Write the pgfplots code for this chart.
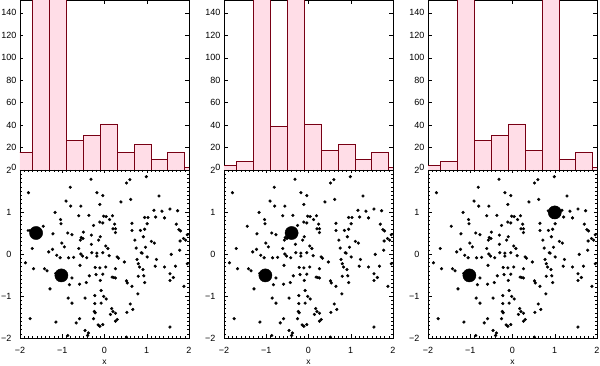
\documentclass[border=0pt]{standalone}
\usepackage{fontspec}
\setmainfont{Liberation Sans}
\usepackage{pgfplots}
\usepackage{pgfplotstable}
\pgfplotsset{compat=1.18}
\definecolor{barfill}{RGB}{255,221,231}
\definecolor{baredge}{RGB}{120,0,20}

\pgfplotstableread{
x y
-0.32 1.78
-1.80 1.46
-0.81 1.59
0.52 1.69
0.60 1.77
0.99 1.84
-0.18 1.46
-0.04 1.39
-0.91 1.26
-0.80 1.14
-0.11 1.18
-0.56 1.14
0.39 1.24
0.62 1.30
1.29 1.38
-1.17 0.99
1.17 1.04
1.36 1.02
1.55 1.07
1.73 1.03
-0.61 0.91
-0.37 0.92
-0.02 0.90
0.04 0.89
0.19 0.91
0.12 0.82
-0.11 0.76
-0.04 0.74
0.24 0.71
0.95 0.87
1.03 0.87
1.21 0.88
1.42 0.86
-1.04 0.82
-1.03 0.72
0.65 0.73
-1.45 0.66
-0.26 0.68
0.20 0.60
0.26 0.60
0.26 0.51
0.65 0.56
0.85 0.56
0.95 0.59
1.01 0.72
1.70 0.71
1.76 0.58
1.80 0.55
1.96 0.46
-0.87 0.50
-0.77 0.46
-0.50 0.52
-1.22 0.48
-0.55 0.39
-0.51 0.37
-0.57 0.33
-0.31 0.45
-0.10 0.41
-0.14 0.33
0.72 0.33
0.92 0.41
1.11 0.30
1.18 0.26
1.87 0.37
1.92 0.33
1.79 0.31
-1.01 0.26
-0.95 0.17
-0.31 0.23
0.03 0.19
0.08 0.13
0.75 0.14
0.97 0.16
1.78 0.09
-1.71 0.13
-1.23 0.11
-1.32 0.05
-0.61 0.13
-0.56 0.00
-0.52 -0.05
-0.42 -0.09
-1.13 -0.03
-1.05 -0.09
-0.85 -0.09
-0.73 -0.08
-0.18 0.02
-0.18 -0.05
-0.30 0.03
-0.04 0.03
0.11 -0.04
0.30 -0.07
0.33 -0.10
0.87 0.03
0.89 0.02
0.77 -0.13
1.01 -0.07
1.23 -0.13
1.58 -0.01
1.96 -0.23
-1.87 -0.21
-0.58 -0.27
-0.22 -0.32
-0.11 -0.33
0.03 -0.31
0.26 -0.35
0.47 -0.19
0.80 -0.23
0.83 -0.31
1.20 -0.29
1.42 -0.31
1.68 -0.29
-1.68 -0.35
-1.42 -0.35
-1.36 -0.40
0.91 -0.37
-0.20 -0.49
-0.04 -0.48
-0.36 -0.52
-0.77 -0.57
0.18 -0.55
0.22 -0.56
0.26 -0.57
0.80 -0.53
0.93 -0.52
1.55 -0.47
1.63 -0.56
1.55 -0.63
-0.83 -0.73
-0.59 -0.72
-0.43 -0.68
-0.10 -0.63
0.52 -0.64
0.54 -0.69
0.65 -0.77
0.95 -0.68
-1.29 -0.83
1.88 -0.77
-0.08 -0.87
0.79 -0.95
-0.23 -0.99
-0.86 -1.05
-0.46 -1.05
-0.02 -1.01
0.04 -1.07
-0.77 -1.17
-0.23 -1.18
-0.08 -1.17
0.61 -1.19
0.67 -1.32
0.17 -1.30
0.20 -1.37
0.26 -1.41
0.14 -1.44
-0.24 -1.37
-0.22 -1.40
0.53 -1.39
-0.59 -1.54
-1.76 -1.54
-1.15 -1.62
-0.67 -1.64
-0.26 -1.54
0.26 -1.60
0.30 -1.56
-0.15 -1.69
-0.04 -1.68
-0.11 -1.72
-0.46 -1.82
-0.38 -1.88
-0.40 -1.94
-0.87 -1.94
0.52 -1.98
1.55 -1.74
}\scatterdata

\pgfplotstableread{
x y
-2.1 16
-1.7 400
-1.3 400
-0.9 26
-0.5 31
-0.1 41
0.3 16
0.7 23
1.1 9
1.5 16
1.9 2
2.3 0
}\histA
\pgfplotstableread{
x y
-2.1 4
-1.7 8
-1.3 400
-0.9 39
-0.5 400
-0.1 41
0.3 17
0.7 23
1.1 9
1.5 16
1.9 2
2.3 0
}\histB
\pgfplotstableread{
x y
-2.1 4
-1.7 8
-1.3 400
-0.9 26
-0.5 31
-0.1 41
0.3 17
0.7 400
1.1 9
1.5 16
1.9 2
2.3 0
}\histC

\pgfplotsset{
  common/.style={
    scale only axis, width=169pt, anchor=south west,
    xmin=-2, xmax=2,
    tick style={black, line width=0.4pt},
    axis line style={line width=0.6pt},
    tick label style={font=\fontsize{9}{10}\selectfont},
    /pgf/number format/assume math mode=true,
    major tick length=3.5pt, minor tick length=2pt,
  },
  hist/.style={common, height=169.5pt,
    ymin=0, ymax=151,
    xtick={-2,-1,0,1,2}, xticklabels={},
    ytick={0,20,...,140},
    yticklabels={\raisebox{4.5pt}{0},20,40,60,80,100,120,140},
  },
  scat/.style={common, height=168pt,
    ymin=-2, ymax=2,
    xtick={-2,-1,0,1,2}, xticklabels={−2,−1,0,1,2},
    ytick={-2,-1,0,1,2}, yticklabels={−2,−1,0,1,\raisebox{-1.5pt}{2}},
    minor x tick num=9, minor y tick num=9,
    xticklabel style={anchor=base, yshift=-16pt},
    yticklabel style={xshift=-5pt},
    xlabel={x},
    xlabel style={at={(axis description cs:0.5,0)}, anchor=base, yshift=-27pt, font=\fontsize{8.5}{10}\selectfont},
  },
  bars/.style={ybar interval, fill=barfill, draw=baredge, line width=0.9pt},
  dots/.style={only marks, mark=*, mark size=1.4pt, black},
  blob/.style={only marks, mark=*, mark size=6.6pt, black},
  tail/.style={only marks, mark=*, mark size=1.1pt, black},
}

\begin{document}
\begin{tikzpicture}
\path[use as bounding box] (0,0) rectangle (600pt,366pt);

% Panel 1
\begin{axis}[hist, at={(20pt,196pt)}]
\addplot[bars] table[x=x,y=y] {\histA};
\end{axis}
\begin{axis}[scat, at={(20pt,28pt)}]
\addplot[dots] table[x=x,y=y] {\scatterdata};
\addplot[blob] coordinates {(-1.62,0.50) (-1.02,-0.51)};
\addplot[tail] coordinates {(-1.81,0.56) (-1.77,0.56) (-1.73,0.56) (-1.70,0.56) (-1.16,-0.46) (-1.13,-0.46)};
\end{axis}

% Panel 2
\begin{axis}[hist, at={(224pt,196pt)}]
\addplot[bars] table[x=x,y=y] {\histB};
\end{axis}
\begin{axis}[scat, at={(224pt,28pt)}]
\addplot[dots] table[x=x,y=y] {\scatterdata};
\addplot[blob] coordinates {(-0.40,0.50) (-1.02,-0.51)};
\addplot[tail] coordinates {(-1.16,-0.46) (-1.13,-0.46)};
\end{axis}

% Panel 3
\begin{axis}[hist, at={(428pt,196pt)}]
\addplot[bars] table[x=x,y=y] {\histC};
\end{axis}
\begin{axis}[scat, at={(428pt,28pt)}]
\addplot[dots] table[x=x,y=y] {\scatterdata};
\addplot[blob] coordinates {(1.00,0.99) (-1.02,-0.51)};
\addplot[tail] coordinates {(0.84,1.03) (0.88,1.03) (-1.16,-0.46) (-1.13,-0.46)};
\end{axis}
\end{tikzpicture}
\end{document}
